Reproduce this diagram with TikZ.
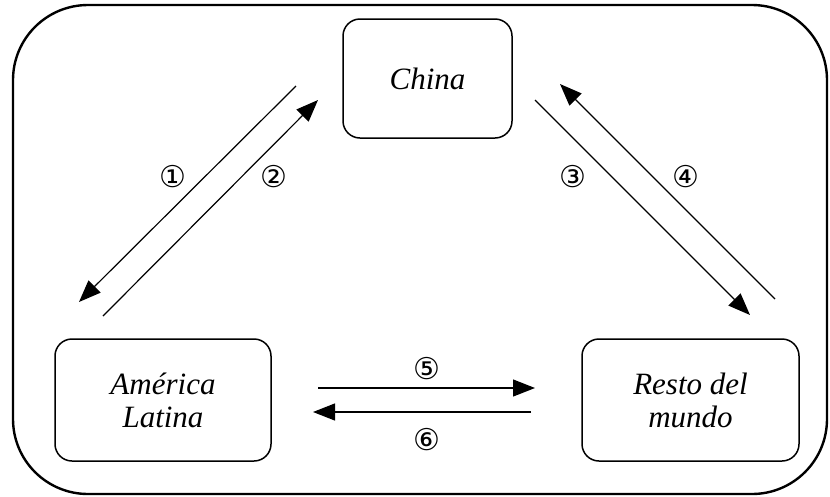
\documentclass[tikz,border=0pt]{standalone}
\usepackage{fontspec}
\setmainfont{Liberation Serif}
\newfontfamily\circfont{DejaVu Sans}
\usetikzlibrary{arrows.meta}

\tikzset{
	region/.style={draw, line width=1.5pt, rounded corners=17pt, inner sep=0pt, align=center,
		font=\fontsize{31}{33}\selectfont\itshape},
	flow/.style={line width=1.2pt, -{Triangle[length=22pt,width=17pt]}},
	num/.style={font=\fontsize{30}{32}\selectfont\circfont}
}

\begin{document}
\begin{tikzpicture}[x=1pt, y=-1pt]
	\useasboundingbox (0,0) rectangle (830,496);
	%Frame
		\draw[line width=2.4pt, rounded corners=75pt] (13,5) rectangle (827,494);
	%Regions
		\node[region, minimum width=169pt, minimum height=119pt] (china) at (427.5,78.5) {China};
		\node[region, minimum width=216pt, minimum height=122pt] (latam) at (163,400) {América\\Latina};
		\node[region, minimum width=217pt, minimum height=122pt] (resto) at (690.5,400) {Resto del\\mundo};
	%China->America Latina
		\coordinate (a1) at (296,86);
		\coordinate (b1) at (79,302);
		\draw[flow] (a1) -- (b1);
		\node[num] (n1) at (173,177) {①};
	%America Latina->China
		\coordinate (a2) at (103,316);
		\coordinate (b2) at (318,100);
		\draw[flow] (a2) -- (b2);
		\node[num] (n2) at (274,177) {②};
	%China->Resto del mundo
		\coordinate (a3) at (535,100);
		\coordinate (b3) at (750,315);
		\draw[flow] (a3) -- (b3);
		\node[num] (n3) at (573,177) {③};
	%Resto del mundo->China
		\coordinate (a4) at (775,299);
		\coordinate (b4) at (560,84);
		\draw[flow] (a4) -- (b4);
		\node[num] (n4) at (686,177) {④};
	%America Latina->Resto del mundo
		\coordinate (a5) at (318,388);
		\coordinate (b5) at (535,388);
		\draw[flow] (a5) -- (b5);
		\node[num] (n5) at (427,369) {⑤};
	%Resto del mundo->America Latina
		\coordinate (a6) at (531,412);
		\coordinate (b6) at (313,412);
		\draw[flow] (a6) -- (b6);
		\node[num] (n6) at (427,440) {⑥};
\end{tikzpicture}
\end{document}
